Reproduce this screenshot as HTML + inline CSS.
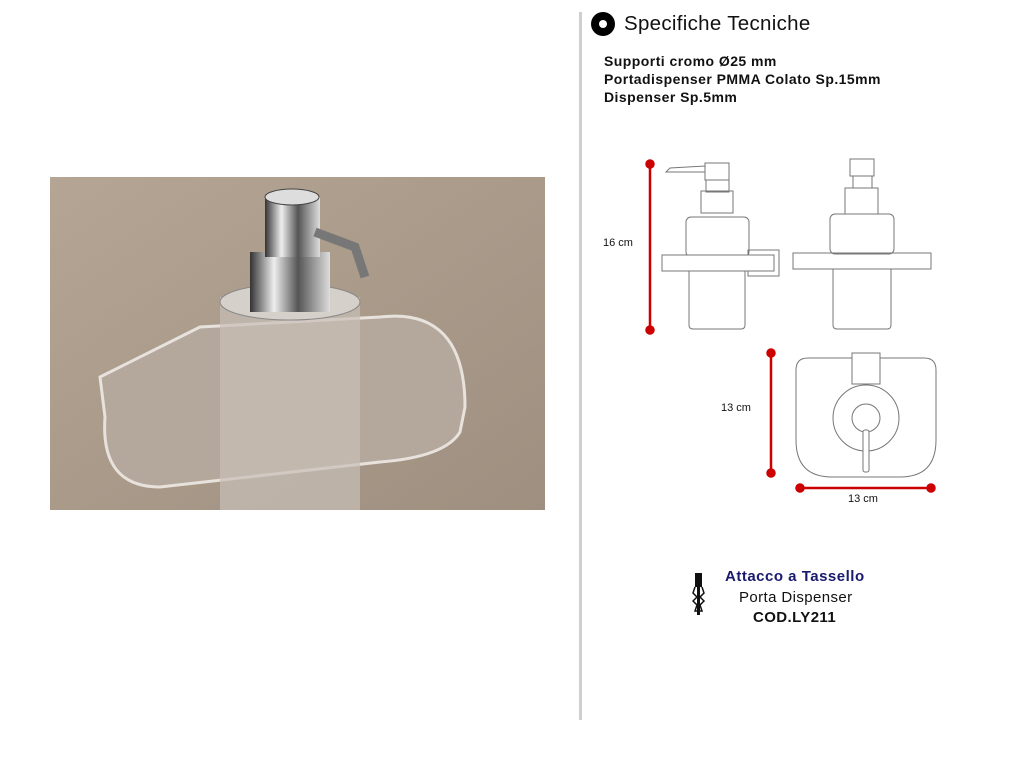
<!DOCTYPE html>
<html><head><meta charset="utf-8"><style>
body{margin:0;width:1024px;height:768px;background:#fff;position:relative;overflow:hidden;font-family:"Liberation Sans",sans-serif}
.t{position:absolute;white-space:nowrap;color:#111}
</style></head><body>
<div style="position:absolute;left:579px;top:12px;width:3px;height:708px;background:#cfcfcf"></div>
<div style="position:absolute;left:591px;top:12px;width:24px;height:24px;border-radius:50%;background:#000"></div>
<div style="position:absolute;left:599px;top:20px;width:8px;height:8px;border-radius:50%;background:#fff"></div>
<div class="t" style="left:624px;top:12px;font-size:20.5px;letter-spacing:0.3px">Specifiche Tecniche</div>
<div class="t" style="left:604px;top:52px;font-size:14px;font-weight:bold;line-height:18px;letter-spacing:0.45px">Supporti cromo Ø25 mm<br>Portadispenser PMMA Colato Sp.15mm<br>Dispenser Sp.5mm</div>

<svg style="position:absolute;left:50px;top:177px" width="495" height="333">
<defs><linearGradient id="bg" x1="0" y1="0" x2="1" y2="1"><stop offset="0" stop-color="#b5a594"/><stop offset="1" stop-color="#9f8f80"/></linearGradient>
<linearGradient id="ch" x1="0" x2="1"><stop offset="0" stop-color="#333"/><stop offset=".3" stop-color="#eee"/><stop offset=".6" stop-color="#555"/><stop offset="1" stop-color="#ddd"/></linearGradient></defs>
<rect width="495" height="333" fill="url(#bg)"/>
<path d="M50 200 L150 150 L330 140 Q415 130 415 230 L410 255 Q395 280 330 285 L110 310 Q50 310 55 240 Z" fill="#b4a89c" stroke="#e8e2dc" stroke-width="3"/>
<rect x="170" y="120" width="140" height="213" fill="#c8bfb6" opacity=".7"/>
<ellipse cx="240" cy="125" rx="70" ry="18" fill="#d6d0ca" stroke="#888"/>
<rect x="200" y="75" width="80" height="60" fill="url(#ch)"/>
<rect x="215" y="20" width="55" height="60" fill="url(#ch)"/>
<ellipse cx="242" cy="20" rx="27" ry="8" fill="#ddd" stroke="#444"/>
<path d="M265 55 L305 70 L315 100" stroke="#777" stroke-width="9" fill="none"/>
</svg>

<svg style="position:absolute;left:0;top:0" width="1024" height="768" fill="none" stroke="#777" stroke-width="1">
<g stroke="#c00" stroke-width="2.5" fill="#c00">
<line x1="650" y1="164" x2="650" y2="330"/><circle cx="650" cy="164" r="3.5"/><circle cx="650" cy="330" r="3.5"/>
<line x1="771" y1="353" x2="771" y2="473"/><circle cx="771" cy="353" r="3.5"/><circle cx="771" cy="473" r="3.5"/>
<line x1="800" y1="488" x2="931" y2="488"/><circle cx="800" cy="488" r="3.5"/><circle cx="931" cy="488" r="3.5"/>
</g>
<path d="M666 172 L670 168 L705 166 L705 172 L671 172 Z"/>
<rect x="705" y="163" width="24" height="17"/>
<rect x="706" y="180" width="23" height="12"/>
<rect x="701" y="191" width="32" height="22"/>
<rect x="686" y="217" width="63" height="40" rx="5"/>
<rect x="748" y="250" width="31" height="26"/>
<rect x="662" y="255" width="112" height="16" fill="#fff"/>
<path d="M689 271 V325 Q689 329 693 329 H741 Q745 329 745 325 V271"/>
<rect x="850" y="159" width="24" height="17"/>
<rect x="853" y="176" width="19" height="12"/>
<rect x="845" y="188" width="33" height="26"/>
<rect x="830" y="214" width="64" height="40" rx="5"/>
<rect x="793" y="253" width="138" height="16"/>
<path d="M833 269 V325 Q833 329 837 329 H887 Q891 329 891 325 V269"/>
<path d="M808 358 H924 Q936 358 936 370 V440 Q936 477 900 477 H832 Q796 477 796 440 V370 Q796 358 808 358 Z"/>
<rect x="852" y="353" width="28" height="31" fill="#fff"/>
<circle cx="866" cy="418" r="33"/>
<circle cx="866" cy="418" r="14"/>
<rect x="863" y="430" width="6" height="42" rx="2" fill="#fff"/>
</svg>
<div class="t" style="left:603px;top:237px;font-size:11px">16 cm</div>
<div class="t" style="left:721px;top:402px;font-size:11px">13 cm</div>
<div class="t" style="left:848px;top:493px;font-size:11px">13 cm</div>

<svg style="position:absolute;left:692px;top:573px" width="14" height="44">
<rect x="3" y="0" width="7" height="14" fill="#111"/>
<path d="M3 14 L1 20 L5 24 L1 28 L5 32 L3 38 H10 L8 32 L12 28 L8 24 L12 20 L10 14" fill="none" stroke="#111" stroke-width="1.5"/>
<rect x="5" y="14" width="3" height="28" fill="#111"/>
</svg>
<div class="t" style="left:725px;top:568px;font-size:15px;color:#1a1a6e;font-weight:bold;letter-spacing:0.5px">Attacco a Tassello</div>
<div class="t" style="left:739px;top:589px;font-size:15px;letter-spacing:0.4px">Porta Dispenser</div>
<div class="t" style="left:753px;top:609px;font-size:15px;font-weight:bold;letter-spacing:0.4px">COD.LY211</div>
</body></html>
